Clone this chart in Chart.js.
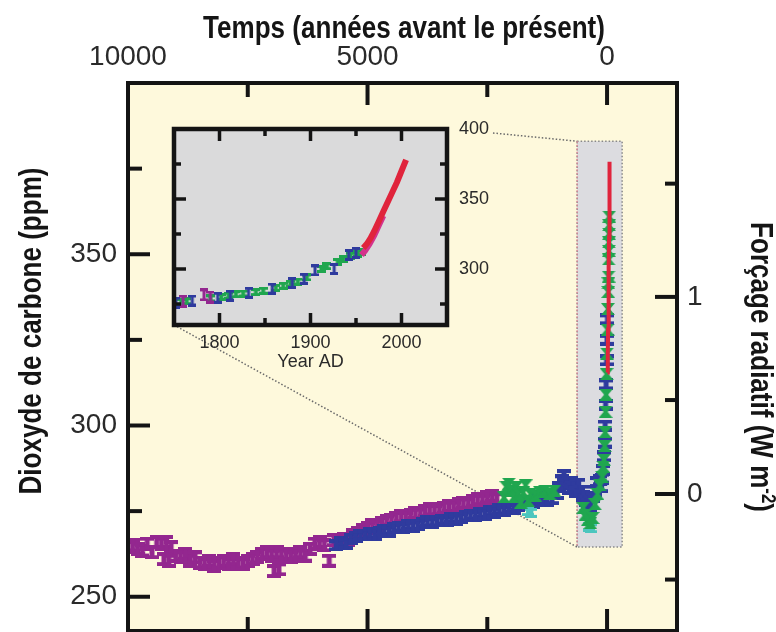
<!DOCTYPE html>
<html>
<head>
<meta charset="utf-8">
<script src="https://cdn.jsdelivr.net/npm/chart.js@4"></script>
<style>
  html, body { margin: 0; padding: 0; background: #fff; overflow: hidden; }
  #wrap { position: relative; width: 776px; height: 632px; }
  #main { position: absolute; left: 0; top: 0; }
  #inset { position: absolute; left: 150px; top: 100px; }
</style>
</head>
<body>
<div id="wrap">
  <canvas id="main" width="776" height="632"></canvas>
  <canvas id="inset" width="370" height="280"></canvas>
</div>
<script>
// ---- axes ----
const ageTicks = [10000, 7500, 5000, 2500, 0];          // years before present
const ageLabels = [10000, 5000, 0];
const co2Ticks = [250, 275, 300, 325, 350, 375];
const co2Labels = [250, 300, 350];
const forcingTicks = [-0.5, 0, 0.5, 1, 1.5];            // W m-2
const forcingLabels = ['', '0', '', '1', ''];
const yearTicks = [1800, 1850, 1900, 1950, 2000];
const yearLabels = [1800, 1900, 2000];
const insetCO2Ticks = [275, 300, 325, 350, 375, 400];
const insetCO2Labels = [300, 350, 400];

// ---- main panel data (age BP, ppm) ----
const purpleAge = [
  10000, 9900, 9800, 9700, 9600, 9500, 9400, 9300, 9250, 9200,
  9150, 9100, 9000, 8900, 8800, 8700, 8600, 8500, 8400, 8300,
  8200, 8100, 8000, 7900, 7800, 7700, 7600, 7500, 7400, 7300,
  7200, 7100, 7000, 6950, 6900, 6850, 6800, 6700, 6600, 6500,
  6400, 6300, 6200, 6100, 6000, 5900, 5800, 5700, 5600, 5500,
  5400, 5300, 5200, 5100, 5000, 4900, 4800, 4700, 4600, 4500,
  4400, 4300, 4200, 4100, 4000, 3900, 3800, 3700, 3600, 3500,
  3400, 3300, 3200, 3100, 3000, 2900, 2800, 2700, 2600, 2500,
  2400, 2300];
const purpleCO2 = [
  264.5, 265, 264, 263.5, 265.5, 263, 266, 265.5, 261, 266,
  260.5, 264.5, 262, 261.5, 262.5, 260.5, 261.5, 260, 259.5, 260.5,
  259, 260, 260.5, 259.5, 261, 260, 259.5, 260.5, 261, 261.5,
  262.5, 263, 262, 257.5, 263, 258, 262, 262.5, 261.5, 262.5,
  263, 262, 264, 265.5, 266, 265, 260.5, 266.5, 266, 267,
  266.5, 268, 268.5, 269.5, 270, 271, 270.5, 271.5, 272, 272.5,
  273, 273.5, 273, 274, 274.5, 274, 275, 275.5, 275, 275.5,
  276, 276.5, 276, 277, 277.5, 277, 278, 278.5, 278, 279,
  279.5, 278.5];

const blueAge = [
  5650, 5550, 5450, 5350, 5250, 5150, 5050, 4950, 4850, 4750,
  4650, 4550, 4450, 4350, 4250, 4150, 4050, 3950, 3850, 3750,
  3650, 3550, 3450, 3350, 3250, 3150, 3050, 2950, 2850, 2750,
  2650, 2550, 2450, 2350, 2250, 2150, 2050, 1950, 1850, 1750,
  1650, 1550, 1450, 1350, 1250, 1150, 1050, 1000, 950, 900,
  850, 800, 750, 700, 650, 600, 550, 500, 450, 400,
  350, 300, 250, 200, 150, 120, 100, 80, 60, 50,
  40, 30, 20, 10, 0, -8];
const blueCO2 = [
  265, 266, 265.5, 267, 267.5, 268, 268, 268.5, 268, 269,
  269.5, 269, 270, 270.5, 270, 271, 270.5, 271, 271.5, 272,
  271.5, 272, 272.5, 272, 273, 272.5, 273, 273.5, 274, 273.5,
  274.5, 274, 275, 274.5, 275.5, 275, 276, 275.5, 276.5, 277,
  278, 277.5, 278.5, 279, 278, 278.5, 280, 282, 284, 285.5,
  283, 281.5, 283.5, 282, 280.5, 283, 281, 279.5, 278, 277,
  276.5, 279, 281, 283.5, 284, 282, 284.5, 287, 291, 295,
  300, 306, 312, 319, 325, 331];

const greenAge = [
  2150, 2100, 2050, 2000, 1950, 1900, 1850, 1800, 1750, 1700,
  1650, 1600, 1500, 1400, 1300, 1200, 1100, 500, 450, 400,
  350, 300, 250, 200, 150, 100, 80, 65, 50, 40,
  30, 20, 10, 0, -10, -18, -24, -28, -32, -35,
  -37, -39, -41, -43, -45];
const greenCO2 = [
  279, 282, 283, 281, 279, 282, 280, 277.5, 280.5, 282.5,
  278, 280, 279.5, 280.5, 281, 280, 281, 276, 274, 272.5,
  271.5, 273, 277, 280, 282.5, 285, 288, 290, 294, 298,
  304, 309, 315, 321, 328, 334, 339, 341.5, 343.5, 348.5,
  351, 353.5, 356, 358.5, 361];

const tealAge = [1650, 1580, 380, 330];
const tealCO2 = [275, 274.5, 270.5, 270];

const redAge = [-8, -15, -22, -30, -36, -42, -48, -52, -55];
const redCO2 = [315.5, 321, 328, 338, 346, 355, 364, 371, 377];

// zoomed window drawn on the main panel
const zoomBoxAge = [625, -315];
const zoomBoxCO2 = [264.5, 383];

// ---- inset data (year AD, ppm) ----
const insetPurpleYear = [1760, 1783, 1790];
const insetPurpleCO2 = [277, 281.5, 280];
const insetBlueYear = [1752, 1770, 1798, 1812, 1832, 1858, 1880, 1893, 1905, 1926, 1942, 1950];
const insetBlueCO2 = [276, 277.5, 279.5, 281, 283, 286, 290, 293, 299, 300, 310, 311.5];
const insetGreenYear = [1758, 1764, 1790, 1802, 1810, 1818, 1826, 1840, 1848, 1862, 1870,
  1878, 1886, 1896, 1912, 1918, 1930, 1936, 1944, 1952, 1956];
const insetGreenCO2 = [276.5, 277, 279, 280, 281, 282, 282.5, 283.5, 284.5, 286.5, 288,
  289.5, 291, 294, 300, 302, 305, 307, 309.5, 311, 312];
const insetRedYear = [1958, 1962, 1966, 1970, 1975, 1980, 1985, 1990, 1995, 2000, 2005];
const insetRedCO2 = [315, 318, 322, 327, 334, 341, 348, 355, 362, 370, 378];
const insetMagentaYear = [1956, 1960, 1965, 1970, 1975, 1980];
const insetMagentaCO2 = [310, 313, 318, 324, 331, 338];

// ---- styles ----
const CREAM = '#fef9dc';
const INSET_BG = '#dadadb';
const FRAME = '#141414';
const TEXT = '#2a2a2a';
const FAMILY = "'Liberation Sans', Arial, sans-serif";
const PURPLE = '#93278f', BLUE = '#2f3b9e', GREEN = '#20a64f', TEAL = '#4cc6be';
const RED = '#e0243c', MAGENTA = '#d4338c';

// F = 5.35 ln(C / 280)
const forcingToCO2 = f => 280 * Math.exp(f / 5.35);
const pts = (xs, ys) => xs.map((v, i) => ({ x: v, y: ys[i] }));

function ibeam(color, w, h, cap, stem) {
  const c = document.createElement('canvas');
  c.width = w; c.height = h;
  const g = c.getContext('2d');
  g.fillStyle = color;
  g.fillRect(0, 0, w, cap);
  g.fillRect(0, h - cap, w, cap);
  g.fillRect((w - stem) / 2, 0, stem, h);
  return c;
}
function bowtie(color, w, h) {
  const c = document.createElement('canvas');
  c.width = w; c.height = h;
  const g = c.getContext('2d');
  g.fillStyle = color;
  g.beginPath();
  g.moveTo(0, 0); g.lineTo(w, 0); g.lineTo(w / 2 + 2, h / 2); g.lineTo(w, h);
  g.lineTo(0, h); g.lineTo(w / 2 - 2, h / 2); g.closePath();
  g.fill();
  return c;
}
function line(ctx, x1, y1, x2, y2) {
  ctx.beginPath(); ctx.moveTo(x1, y1); ctx.lineTo(x2, y2); ctx.stroke();
}
// fixed box sizes, and no extra room for half labels at the ends
const fixSize = (w, h) => s => {
  if (w != null) s.width = w;
  if (h != null) s.height = h;
  s.paddingTop = s.paddingBottom = s.paddingLeft = s.paddingRight = 0;
};
// condensed bold title, parts let the unit carry a superscript
function drawTitle(ctx, parts, cx, cy, rotation) {
  ctx.save();
  ctx.translate(cx, cy);
  ctx.rotate(rotation);
  ctx.scale(0.84, 1);
  ctx.fillStyle = '#151515';
  ctx.textBaseline = 'alphabetic';
  ctx.textAlign = 'left';
  let total = 0;
  parts.forEach(p => {
    ctx.font = 'bold ' + p.size + 'px ' + FAMILY;
    p.w = ctx.measureText(p.text).width;
    total += p.w;
  });
  let x = -total / 2;
  parts.forEach(p => {
    ctx.font = 'bold ' + p.size + 'px ' + FAMILY;
    ctx.fillText(p.text, x, -(p.rise || 0));
    x += p.w;
  });
  ctx.restore();
}

const insetCanvas = document.getElementById('inset');
let insetChart = null;

const insetDecor = {
  id: 'insetDecor',
  beforeDraw(chart) {
    const { ctx, chartArea: a } = chart;
    ctx.save();
    ctx.fillStyle = INSET_BG;
    ctx.fillRect(a.left, a.top, a.right - a.left, a.bottom - a.top);
    ctx.restore();
  },
  afterDatasetsDraw(chart) {
    const { ctx, chartArea: a, scales: { x, y } } = chart;
    ctx.save();
    ctx.strokeStyle = FRAME;
    ctx.lineWidth = 3.5;
    yearTicks.forEach(v => {
      const px = x.getPixelForValue(v);
      const len = yearLabels.includes(v) ? 12 : 7;
      line(ctx, px, a.top, px, a.top + len);
      line(ctx, px, a.bottom, px, a.bottom - len);
    });
    insetCO2Ticks.filter(v => v < 400).forEach(v => {
      const py = y.getPixelForValue(v);
      const len = insetCO2Labels.includes(v) ? 12 : 7;
      line(ctx, a.left, py, a.left + len, py);
      line(ctx, a.right, py, a.right - len, py);
    });
    ctx.lineWidth = 4.5;
    ctx.strokeRect(a.left, a.top, a.right - a.left, a.bottom - a.top);
    ctx.restore();
  }
};

const mainDecor = {
  id: 'mainDecor',
  beforeDraw(chart) {
    const { ctx, chartArea: a } = chart;
    ctx.save();
    ctx.fillStyle = CREAM;
    ctx.fillRect(a.left, a.top, a.right - a.left, a.bottom - a.top);
    ctx.restore();
  },
  beforeDatasetsDraw(chart) {
    const { ctx, scales: { x, y } } = chart;
    const l = x.getPixelForValue(zoomBoxAge[0]), r = x.getPixelForValue(zoomBoxAge[1]);
    const t = y.getPixelForValue(zoomBoxCO2[1]), b = y.getPixelForValue(zoomBoxCO2[0]);
    ctx.save();
    ctx.fillStyle = '#dcdce0';
    ctx.fillRect(l, t, r - l, b - t);
    ctx.setLineDash([1.5, 2]);
    ctx.lineWidth = 1.5;
    ctx.strokeStyle = '#888';
    ctx.strokeRect(l, t, r - l, b - t);
    ctx.strokeStyle = '#e08a9a';
    line(ctx, l, t, l, b);
    if (insetChart) {
      const ia = insetChart.chartArea;
      const ox = insetCanvas.offsetLeft, oy = insetCanvas.offsetTop;
      ctx.strokeStyle = '#6a6a6a';
      line(ctx, ox + ia.left, oy + ia.bottom, l, b);
      line(ctx, ox + ia.right + 46, oy + ia.top + 4, l, t);
    }
    ctx.restore();
  },
  afterDatasetsDraw(chart) {
    const { ctx, chartArea: a, scales: { x, y, y2 } } = chart;
    ctx.save();
    ctx.strokeStyle = FRAME;
    ctx.lineWidth = 4;
    ageTicks.forEach(v => {
      const px = x.getPixelForValue(v);
      const len = ageLabels.includes(v) ? 22 : 14;
      line(ctx, px, a.top, px, a.top + len);
      line(ctx, px, a.bottom, px, a.bottom - len);
    });
    co2Ticks.forEach(v => {
      const py = y.getPixelForValue(v);
      line(ctx, a.left, py, a.left + (co2Labels.includes(v) ? 22 : 14), py);
    });
    forcingTicks.forEach((f, i) => {
      const py = y2.getPixelForValue(forcingToCO2(f));
      line(ctx, a.right, py, a.right - (forcingLabels[i] ? 22 : 12), py);
    });
    ctx.strokeRect(a.left, a.top, a.right - a.left, a.bottom - a.top);
    ctx.restore();
  },
  afterDraw(chart) {
    const { ctx } = chart;
    drawTitle(ctx, [{ text: 'Temps (années avant le présent)', size: 31 }], 404, 37.5, 0);
    drawTitle(ctx, [{ text: 'Dioxyde de carbone (ppm)', size: 31 }], 41, 331, -Math.PI / 2);
    drawTitle(ctx, [
      { text: 'Forçage radiatif (W m', size: 31 },
      { text: '-2', size: 20, rise: 11 },
      { text: ')', size: 31 }
    ], 751, 367, Math.PI / 2);
  }
};

const noAxisLines = { grid: { display: false, drawTicks: false }, border: { display: false } };

insetChart = new Chart(insetCanvas, {
  type: 'scatter',
  data: {
    datasets: [
      { data: pts(insetRedYear, insetRedCO2), showLine: true, borderColor: RED, borderWidth: 6, pointRadius: 0 },
      { data: pts(insetMagentaYear, insetMagentaCO2), showLine: true, borderColor: MAGENTA, borderWidth: 6, pointRadius: 0 },
      { data: pts(insetBlueYear, insetBlueCO2), pointStyle: ibeam(BLUE, 8, 12, 3, 3), pointRadius: 5 },
      { data: pts(insetPurpleYear, insetPurpleCO2), pointStyle: ibeam(PURPLE, 8, 13, 3, 3), pointRadius: 5 },
      { data: pts(insetGreenYear, insetGreenCO2), pointStyle: ibeam(GREEN, 9, 8, 3, 4), pointRadius: 5 }
    ]
  },
  options: {
    responsive: false,
    animation: false,
    events: [],
    layout: { autoPadding: false, padding: { left: 24, top: 29, right: 0, bottom: 0 } },
    plugins: { legend: { display: false }, tooltip: { enabled: false } },
    scales: {
      x: {
        type: 'linear', position: 'bottom', min: 1750, max: 2050,
        afterBuildTicks: s => { s.ticks = yearTicks.map(v => ({ value: v })); },
        afterFit: fixSize(null, 55),
        ticks: {
          autoSkip: false, maxRotation: 0, padding: 7, color: TEXT,
          font: { family: FAMILY, size: 18 },
          callback: v => yearLabels.includes(v) ? String(v) : ''
        },
        title: {
          display: true, text: 'Year AD', color: TEXT,
          font: { family: FAMILY, size: 18 }, padding: { top: 0, bottom: 7 }
        },
        ...noAxisLines
      },
      y: {
        type: 'linear', position: 'right', min: 260, max: 400,
        afterBuildTicks: s => { s.ticks = insetCO2Ticks.map(v => ({ value: v })); },
        afterFit: fixSize(73, null),
        ticks: {
          autoSkip: false, padding: 12, color: TEXT,
          font: { family: FAMILY, size: 18 },
          callback: v => insetCO2Labels.includes(v) ? String(v) : ''
        },
        ...noAxisLines
      }
    }
  },
  plugins: [insetDecor]
});

const tickFont = { family: FAMILY, size: 28 };

const mainChart = new Chart(document.getElementById('main'), {
  type: 'scatter',
  data: {
    datasets: [
      { label: 'Mauna Loa', data: pts(redAge, redCO2), showLine: true, borderColor: RED, borderWidth: 4, pointRadius: 0 },
      { label: 'Law Dome', data: pts(greenAge, greenCO2), pointStyle: bowtie(GREEN, 14, 12), pointRadius: 6 },
      { label: 'teal', data: pts(tealAge, tealCO2), pointStyle: ibeam(TEAL, 12, 10, 3, 4), pointRadius: 6 },
      { label: 'Taylor Dome', data: pts(blueAge, blueCO2), pointStyle: ibeam(BLUE, 14, 12, 4, 5), pointRadius: 6 },
      { label: 'Dome C', data: pts(purpleAge, purpleCO2), pointStyle: ibeam(PURPLE, 14, 14, 4, 5), pointRadius: 6 }
    ]
  },
  options: {
    responsive: false,
    animation: false,
    events: [],
    layout: { autoPadding: false, padding: { left: 0, right: 0, top: 0, bottom: 1 } },
    plugins: { legend: { display: false }, tooltip: { enabled: false } },
    scales: {
      x: {
        type: 'linear', position: 'top', reverse: true, min: -1460, max: 10000,
        afterBuildTicks: s => { s.ticks = ageTicks.map(v => ({ value: v })); },
        afterFit: fixSize(null, 83),
        ticks: {
          autoSkip: false, maxRotation: 0, padding: 9, color: TEXT, font: tickFont,
          callback: v => ageLabels.includes(v) ? String(v) : ''
        },
        ...noAxisLines
      },
      y: {
        type: 'linear', position: 'left', min: 240, max: 400,
        afterBuildTicks: s => { s.ticks = co2Ticks.map(v => ({ value: v })); },
        afterFit: fixSize(128, null),
        ticks: {
          autoSkip: false, padding: 11, color: TEXT, font: tickFont,
          callback: v => co2Labels.includes(v) ? String(v) : ''
        },
        ...noAxisLines
      },
      y2: {
        type: 'linear', position: 'right', min: 240, max: 400,
        afterBuildTicks: s => { s.ticks = forcingTicks.map(f => ({ value: forcingToCO2(f) })); },
        afterFit: fixSize(99, null),
        ticks: {
          autoSkip: false, padding: 10, color: TEXT, font: tickFont,
          callback: (v, i) => forcingLabels[i]
        },
        ...noAxisLines
      }
    }
  },
  plugins: [mainDecor]
});
</script>
</body>
</html>
